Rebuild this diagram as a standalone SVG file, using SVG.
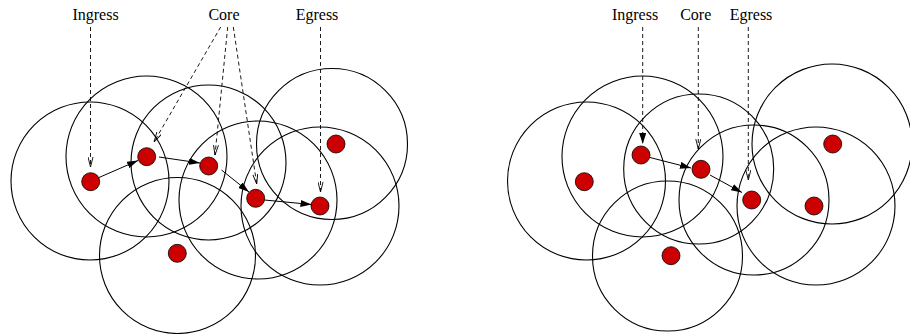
<svg xmlns="http://www.w3.org/2000/svg" width="910" height="334" viewBox="0 0 910 334">
<defs>
<style>
.ring{fill:none;stroke:#000;stroke-width:1.1}
.node{fill:#cc0000;stroke:#000;stroke-width:0.8}
.lbl{font-family:"Liberation Serif","Times New Roman",serif;font-size:16px;fill:#000;text-anchor:middle}
.hop{fill:none;stroke:#000;stroke-width:1;marker-end:url(#solid)}
.ptr{fill:none;stroke:#000;stroke-width:0.9;stroke-dasharray:4 3;marker-end:url(#open)}
.ptrs{fill:none;stroke:#000;stroke-width:0.9;stroke-dasharray:4 3;marker-end:url(#solid)}
</style>
<marker id="solid" viewBox="0 0 11 7" refX="11" refY="3.5" markerWidth="11" markerHeight="7" markerUnits="userSpaceOnUse" orient="auto">
<path d="M0,0 L11,3.5 L0,7 Z" fill="#000"/>
</marker>
<marker id="open" viewBox="0 0 10 6" refX="10" refY="3" markerWidth="10" markerHeight="6" markerUnits="userSpaceOnUse" orient="auto">
<path d="M0,0.5 L10,3 L0,5.5" fill="none" stroke="#000" stroke-width="0.9"/>
</marker>
</defs>
<rect width="910" height="334" fill="#fff"/>

<g id="ranges">
<circle class="ring" cx="90" cy="181" r="79"/>
<circle class="ring" cx="146.5" cy="156.5" r="80.5"/>
<circle class="ring" cx="208.5" cy="162.5" r="77.5"/>
<circle class="ring" cx="177.5" cy="255.5" r="78"/>
<circle class="ring" cx="258" cy="200" r="79"/>
<circle class="ring" cx="332" cy="144" r="75.5"/>
<circle class="ring" cx="320" cy="206" r="79"/>

<circle class="ring" cx="586.5" cy="181" r="79"/>
<circle class="ring" cx="642.5" cy="156.5" r="80.5"/>
<circle class="ring" cx="698.7" cy="169" r="75"/>
<circle class="ring" cx="667.5" cy="256" r="75"/>
<circle class="ring" cx="754" cy="200" r="75"/>
<circle class="ring" cx="832" cy="144" r="80"/>
<circle class="ring" cx="816" cy="206" r="79"/>
</g>

<g id="connectors">
<line class="ptr" x1="90.5" y1="27" x2="90.5" y2="167"/>
<line class="ptr" x1="220.7" y1="27" x2="154" y2="142"/>
<line class="ptr" x1="227.7" y1="27" x2="215" y2="155"/>
<line class="ptr" x1="233.3" y1="27" x2="256.7" y2="184"/>
<line class="ptr" x1="320.5" y1="27" x2="320.5" y2="192"/>
<line class="hop" x1="99" y1="177.5" x2="138" y2="160.5"/>
<line class="hop" x1="159" y1="157" x2="200" y2="163"/>
<line class="hop" x1="221.5" y1="170" x2="249" y2="192"/>
<line class="hop" x1="264.5" y1="200" x2="311.5" y2="204.5"/>

<line class="ptrs" x1="642.7" y1="27" x2="642.7" y2="144"/>
<line class="ptr" x1="698.3" y1="27" x2="698.3" y2="149"/>
<line class="ptr" x1="748.3" y1="27" x2="748.3" y2="180"/>
<line class="hop" x1="650" y1="157.5" x2="691" y2="168"/>
<line class="hop" x1="710" y1="175" x2="742" y2="192.5"/>
</g>

<g id="nodes-left">
<circle id="l1" class="node" cx="90.7" cy="181.7" r="9"/>
<circle id="l2" class="node" cx="146.7" cy="156.7" r="9"/>
<circle id="l3" class="node" cx="208.7" cy="166" r="9"/>
<circle id="l4" class="node" cx="255.7" cy="198.3" r="9"/>
<circle id="l5" class="node" cx="320" cy="206" r="9"/>
<circle id="l6" class="node" cx="336" cy="144" r="9"/>
<circle id="l7" class="node" cx="177.3" cy="253.3" r="9"/>
</g>
<g id="nodes-right">
<circle id="r1" class="node" cx="584.3" cy="181.7" r="9"/>
<circle id="r2" class="node" cx="641" cy="155" r="9"/>
<circle id="r3" class="node" cx="701" cy="169.3" r="9"/>
<circle id="r4" class="node" cx="751.7" cy="200" r="9"/>
<circle id="r5" class="node" cx="814" cy="206" r="9"/>
<circle id="r6" class="node" cx="832.7" cy="144" r="9"/>
<circle id="r7" class="node" cx="671" cy="255.7" r="9"/>
</g>

<g id="labels">
<text class="lbl" x="95.5" y="20">Ingress</text>
<text class="lbl" x="224" y="20">Core</text>
<text class="lbl" x="317" y="20">Egress</text>
<text class="lbl" x="635" y="20">Ingress</text>
<text class="lbl" x="695.7" y="20">Core</text>
<text class="lbl" x="751" y="20">Egress</text>
</g>
</svg>
